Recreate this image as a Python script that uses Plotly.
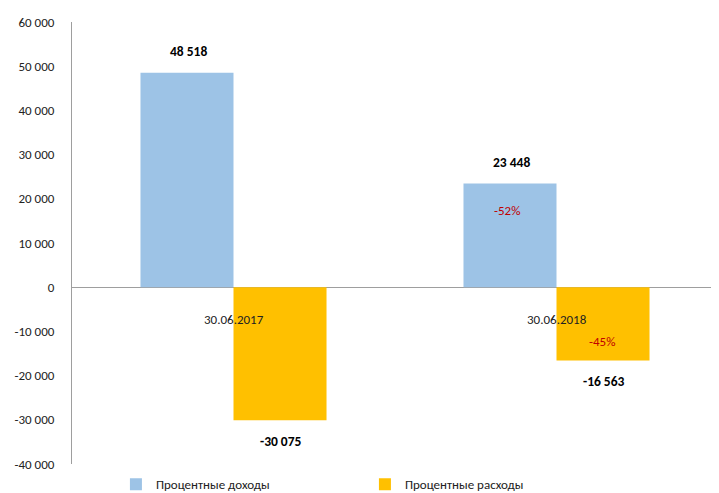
import plotly.graph_objects as go

categories = ["30.06.2017", "30.06.2018"]
income = [48518, 23448]
expense = [-30075, -16563]
income_change = [None, "-52%"]
expense_change = [None, "-45%"]
income_change_y = [None, 17400]
expense_change_y = [None, -12200]
tick_values = [60000, 50000, 40000, 30000, 20000, 10000, 0, -10000, -20000, -30000, -40000]

FONT = "Carlito, Lato, sans-serif"

def fmt(v):
    s = f"{abs(v):,}".replace(",", " ")
    return ("-" if v < 0 else "") + s

fig = go.Figure()
fig.add_bar(x=categories, y=income, name="Процентные доходы",
            marker=dict(color="#9DC3E6", line=dict(width=0)))
fig.add_bar(x=categories, y=expense, name="Процентные расходы",
            marker=dict(color="#FFC000", line=dict(width=0)))

ann = []
for i, c in enumerate(categories):
    ann.append(dict(x=c, y=income[i], xref="x", yref="y", text="<b>" + fmt(income[i]) + "</b>",
                    showarrow=False, xshift=-45, yshift=21, font=dict(size=13.5, color="#000")))
    ann.append(dict(x=c, y=expense[i], xref="x", yref="y", text="<b>" + fmt(expense[i]) + "</b>",
                    showarrow=False, xshift=47, yshift=-21, font=dict(size=13.5, color="#000")))
    ann.append(dict(x=c, y=0, xref="x", yref="y", text=c, showarrow=False,
                    yshift=-32, font=dict(size=13, color="#222")))
    if income_change[i]:
        ann.append(dict(x=c, y=income_change_y[i], xref="x", yref="y", text=income_change[i],
                        showarrow=False, xshift=-50, font=dict(size=13, color="#C00000")))
    if expense_change[i]:
        ann.append(dict(x=c, y=expense_change_y[i], xref="x", yref="y", text=expense_change[i],
                        showarrow=False, xshift=45, font=dict(size=13, color="#C00000")))

fig.update_layout(
    width=711, height=485,
    margin=dict(l=64, r=1, t=14, b=29, autoexpand=False),
    paper_bgcolor="white", plot_bgcolor="white",
    barmode="group", bargap=0.424, bargroupgap=0,
    font=dict(family=FONT, size=12, color="#222"),
    showlegend=True,
    legend=dict(orientation="h", x=0.068, xanchor="left", y=-0.012, yanchor="top",
                entrywidth=204, entrywidthmode="pixels", itemwidth=30,
                font=dict(size=13, color="#222"), traceorder="normal"),
    annotations=ann,
)
fig.update_xaxes(showticklabels=False, showline=False, showgrid=False, zeroline=False)
fig.update_yaxes(range=[-40000, 60000], tickvals=tick_values, ticktext=[fmt(v) for v in tick_values],
                 showgrid=False, zeroline=True, zerolinecolor="#9E9E9E", zerolinewidth=1,
                 showline=True, linecolor="#9E9E9E", linewidth=1, ticks="", ticklen=0,
                 ticklabelstandoff=14,
                 tickfont=dict(size=13, color="#222"))
fig.write_html("out.html")
